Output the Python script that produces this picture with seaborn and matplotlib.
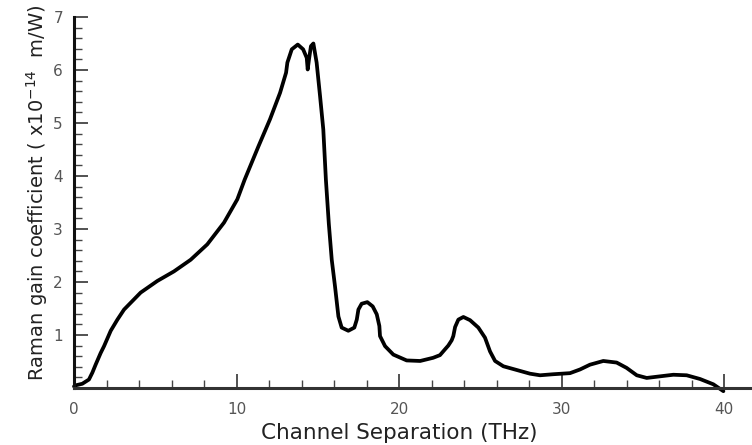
import matplotlib
matplotlib.use("Agg")
import matplotlib.pyplot as plt
import seaborn as sns
import pandas as pd
from matplotlib.ticker import MultipleLocator, NullFormatter, FixedLocator

# Channel separation (THz)
freq_thz = [0.0, 0.1, 0.51, 0.92, 1.13, 1.33, 1.64, 1.85, 2.26, 2.67, 3.08, 3.59,
            4.1, 5.13, 6.15, 7.18, 8.2, 9.23, 10.05, 10.5, 11.35, 12.06, 12.68,
            13.05, 13.13, 13.4, 13.77, 14.1, 14.32, 14.38, 14.46, 14.58, 14.73,
            14.93, 15.14, 15.34, 15.5, 15.68, 15.86, 16.06, 16.27, 16.47, 16.88,
            17.25, 17.4, 17.5, 17.7, 18.05, 18.38, 18.63, 18.79, 18.83, 19.14,
            19.65, 20.47, 21.3, 22.1, 22.52, 22.83, 23.03, 23.24, 23.34, 23.45,
            23.65, 23.96, 24.37, 24.88, 25.29, 25.6, 25.91, 26.42, 27.24, 28.06,
            28.68, 29.5, 30.52, 31.14, 31.75, 32.57, 33.39, 34.0, 34.63, 35.24,
            36.06, 36.88, 37.7, 38.52, 39.34, 39.96]
# Raman gain coefficient (x1e-14 m/W)
gain = [0.03, 0.05, 0.08, 0.16, 0.29, 0.44, 0.66, 0.79, 1.08, 1.29, 1.48, 1.64,
        1.80, 2.02, 2.20, 2.42, 2.71, 3.12, 3.56, 3.93, 4.56, 5.07, 5.57,
        5.95, 6.14, 6.39, 6.48, 6.39, 6.23, 6.01, 6.20, 6.45, 6.50,
        6.14, 5.51, 4.88, 3.93, 3.10, 2.42, 1.92, 1.35, 1.14, 1.08,
        1.14, 1.29, 1.48, 1.59, 1.62, 1.54, 1.39, 1.17, 0.98, 0.79,
        0.63, 0.52, 0.51, 0.57, 0.62, 0.73, 0.80, 0.90, 0.98, 1.15,
        1.29, 1.34, 1.28, 1.14, 0.95, 0.69, 0.51, 0.41, 0.34, 0.27,
        0.24, 0.26, 0.28, 0.35, 0.44, 0.51, 0.48, 0.38, 0.24, 0.19,
        0.22, 0.25, 0.24, 0.17, 0.07, -0.06]

x_ticks = [0, 10, 20, 30, 40]
y_ticks = [1, 2, 3, 4, 5, 6, 7]

sns.set_style("ticks")
plt.rcParams['font.family'] = ['DejaVu Sans']

fig = plt.figure(figsize=(7.52, 4.45), dpi=100)
ax = fig.add_axes([74 / 752, 57 / 445, 1 - 74 / 752, (388 - 17) / 445])

df = pd.DataFrame({"freq": freq_thz, "gain": gain})
sns.lineplot(data=df, x="freq", y="gain", sort=False, color="black",
             linewidth=2.7, ax=ax, clip_on=False)

xmax = 41.72
ax.set_xlim(0, xmax)
ax.set_ylim(0, 7)
ax.xaxis.set_major_locator(FixedLocator(x_ticks))
ax.yaxis.set_major_locator(FixedLocator(y_ticks))
ax.xaxis.set_minor_locator(MultipleLocator(2))
ax.yaxis.set_minor_locator(MultipleLocator(0.2))
ax.xaxis.set_minor_formatter(NullFormatter())
ax.yaxis.set_minor_formatter(NullFormatter())
ax.set_xticklabels([str(v) for v in x_ticks])
ax.set_yticklabels([str(v) for v in y_ticks])

for s in ["top", "right"]:
    ax.spines[s].set_visible(False)
ax.spines["left"].set_linewidth(2.2)
ax.spines["left"].set_color("#111111")
ax.spines["bottom"].set_linewidth(2.2)
ax.spines["bottom"].set_color("#333333")

ax.tick_params(axis="both", which="major", direction="in", length=10,
               width=1.2, color="#333333", labelsize=11, labelcolor="#555555")
ax.tick_params(axis="both", which="minor", direction="in", length=6,
               width=1.0, color="#444444")
ax.tick_params(axis="x", which="major", pad=10)
ax.tick_params(axis="y", which="major", pad=8)

ax.set_xlabel("Channel Separation (THz)", fontsize=15.5, color="#222222")
ax.xaxis.set_label_coords(20 / xmax, -0.095)
ax.set_ylabel("Raman gain coefficient ( x10$^{-14}$  m/W)", fontsize=14,
              color="#222222", labelpad=2)
ax.yaxis.label.set_y(0.525)

fig.savefig("out.png", dpi=100)
